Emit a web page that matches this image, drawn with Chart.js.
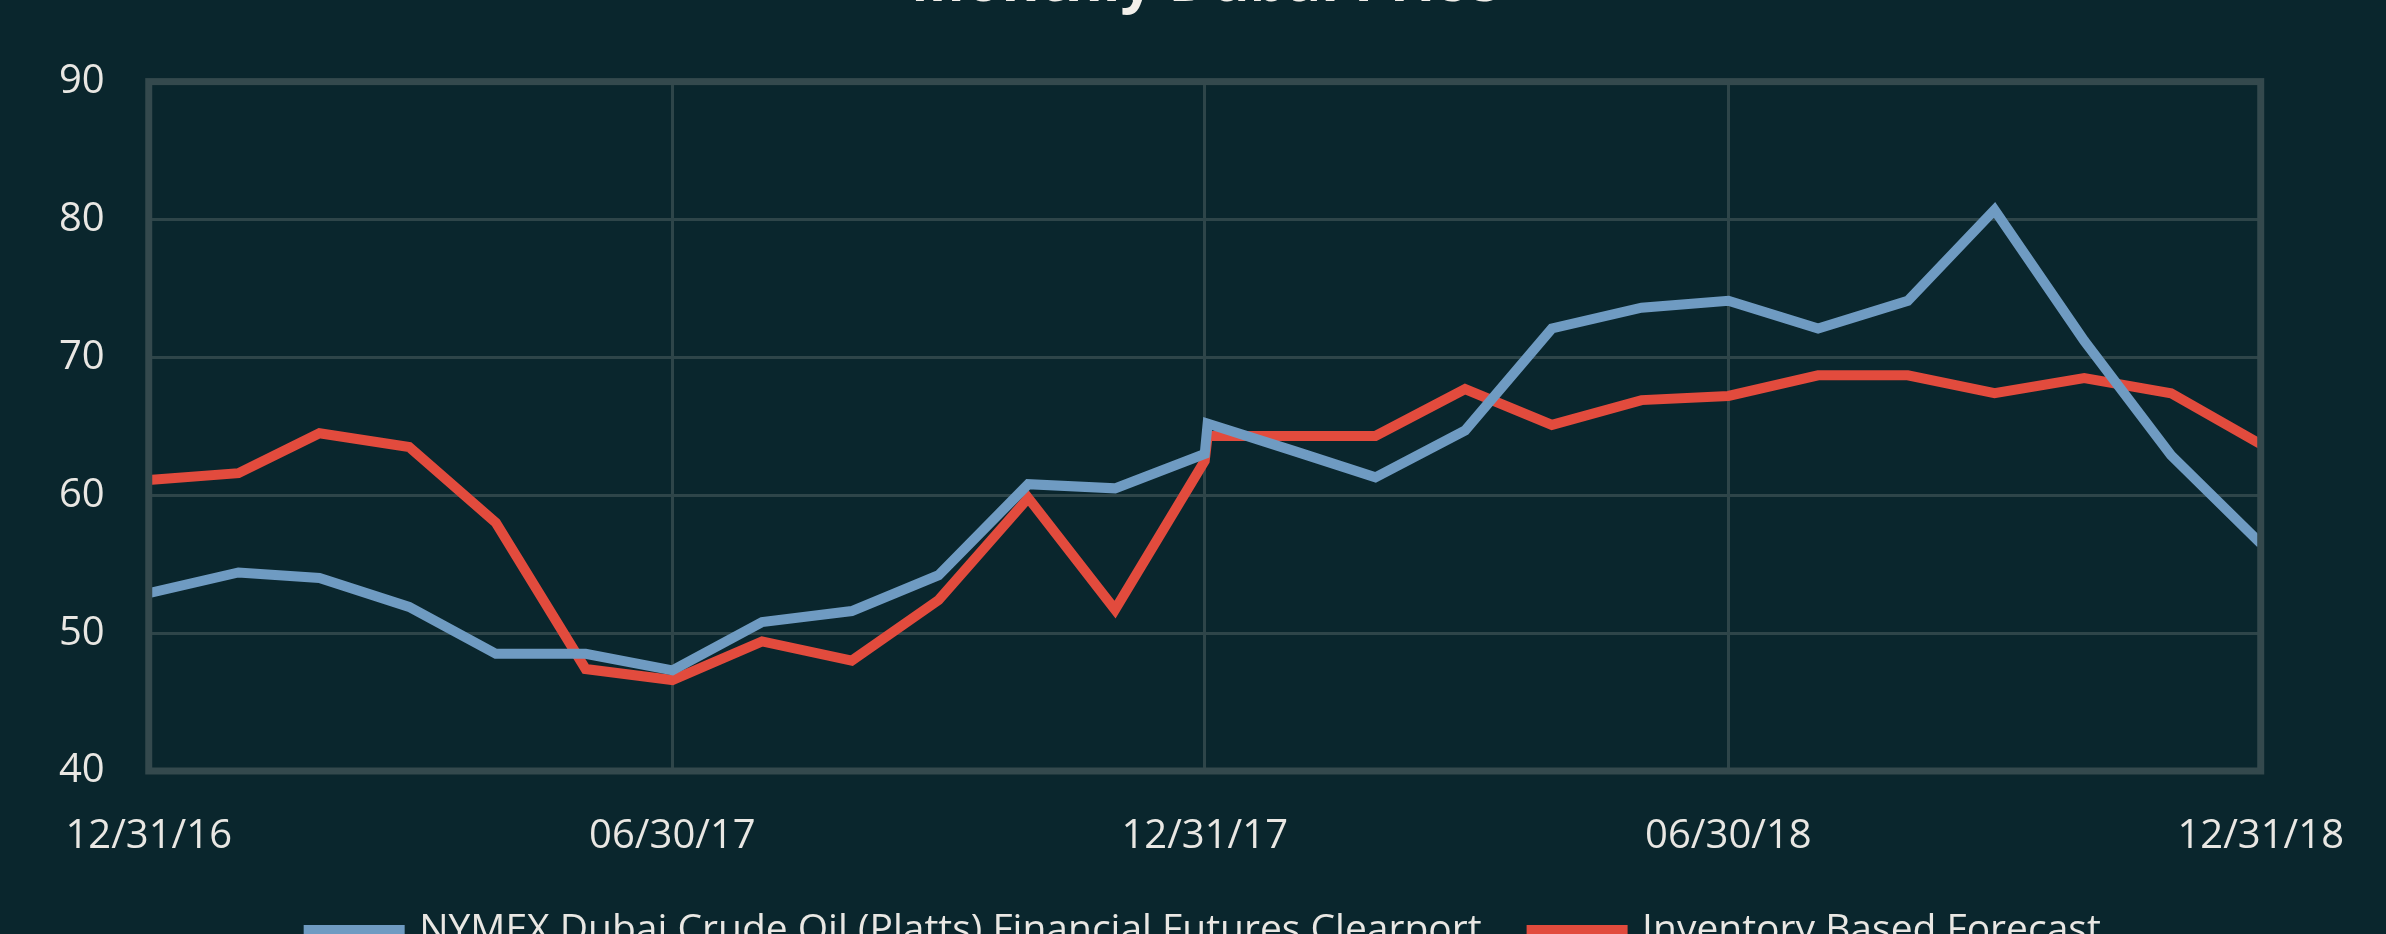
<!DOCTYPE html>
<html>
<head>
<meta charset="utf-8">
<script src="https://cdn.jsdelivr.net/npm/chart.js@4/dist/chart.umd.min.js"></script>
<style>
  html, body { margin: 0; padding: 0; background: #0a262d; overflow: hidden; }
  #wrap { position: absolute; left: 0; top: -60px; width: 2386px; height: 1020px; }
</style>
</head>
<body>
<div id="wrap"><canvas id="chart-price"></canvas></div>
<script>
/* Monthly Dubai price vs inventory based forecast */

const START = "2016-12-31";

const dates = [
  "2016-12-31", "2017-01-31", "2017-02-28", "2017-03-31", "2017-04-30", "2017-05-31",
  "2017-06-30", "2017-07-31", "2017-08-31", "2017-09-30", "2017-10-31", "2017-11-30",
  "2017-12-31", "2018-01-01", "2018-01-31", "2018-02-28", "2018-03-31", "2018-04-30",
  "2018-05-31", "2018-06-30", "2018-07-31", "2018-08-31", "2018-09-30", "2018-10-31",
  "2018-11-30", "2018-12-31",
];
const nymexDubai = [
  52.9, 54.4, 54.0, 51.9, 48.5, 48.5,
  47.3, 50.8, 51.6, 54.2, 60.8, 60.5,
  63.0, 65.2, 63.2, 61.3, 64.7, 72.1,
  73.6, 74.1, 72.1, 74.1, 80.7, 71.2,
  62.9, 56.5,
];
const forecast = [
  61.1, 61.6, 64.5, 63.5, 58.0, 47.4,
  46.6, 49.4, 48.0, 52.4, 59.8, 51.7,
  62.5, 64.3, 64.3, 64.3, 67.7, 65.1,
  66.9, 67.2, 68.7, 68.7, 67.4, 68.5,
  67.4, 63.7,
];
const tickDates = ["2016-12-31", "2017-06-30", "2017-12-31", "2018-06-30", "2018-12-31"];
const tickLabels = ["12/31/16", "06/30/17", "12/31/17", "06/30/18", "12/31/18"];
const seriesNames = ["NYMEX Dubai Crude Oil (Platts) Financial Futures Clearport", "Inventory Based Forecast"];

const TEXT = "#e9e7e3";
const GRID = "#2e4549";
const FRAME = "#34494d";
const BLUE = "#6f9bc2";
const RED = "#e24b3d";
const FONT = "'Open Sans', 'Noto Sans', sans-serif";
const X_PAD = 42;

function dayOf(s) { return Math.round((Date.parse(s) - Date.parse(START)) / 864e5); }
function points(vals) { return vals.map((v, i) => ({ x: dayOf(dates[i]), y: v })); }

const tickDays = tickDates.map(dayOf);

// thick frame round the plot area, drawn over the line ends
const frame = {
  id: "frame",
  afterDatasetsDraw(chart) {
    const { ctx, chartArea: a } = chart;
    ctx.save();
    ctx.strokeStyle = FRAME;
    ctx.lineWidth = 7;
    ctx.strokeRect(a.left, a.top, a.right - a.left, a.bottom - a.top);
    ctx.restore();
  },
};

function line(label, vals, color) {
  return {
    label, data: points(vals),
    borderColor: color, backgroundColor: color,
    borderWidth: 10, pointRadius: 0, tension: 0, borderJoinStyle: "miter",
  };
}

new Chart(document.getElementById("chart-price"), {
  type: "line",
  data: {
    datasets: [
      line(seriesNames[0], nymexDubai, BLUE),
      line(seriesNames[1], forecast, RED),
    ],
  },
  options: {
    responsive: true, maintainAspectRatio: false, animation: false,
    layout: { padding: { left: 15, right: 124, top: 0, bottom: 0 } },
    plugins: {
      title: {
        display: true, fullSize: false, text: "Monthly Dubai Price", color: "#f2efea",
        font: { family: FONT, size: 58, weight: "bold" },
        padding: { top: 10, bottom: 62 },
      },
      legend: {
        position: "bottom", fullSize: false,
        labels: { color: TEXT, font: { family: FONT, size: 39 }, boxWidth: 91, boxHeight: 1, padding: 50 },
      },
      tooltip: { enabled: false },
    },
    scales: {
      x: {
        type: "linear", min: 0, max: tickDays[tickDays.length - 1],
        afterBuildTicks: (s) => { s.ticks = tickDays.map((v) => ({ value: v })); },
        afterFit: (s) => { s.height -= X_PAD; },
        ticks: {
          color: TEXT, font: { family: FONT, size: 40 }, padding: X_PAD, maxRotation: 0, autoSkip: false,
          callback: (v) => tickLabels[tickDays.indexOf(v)],
        },
        grid: { color: GRID, lineWidth: 3, drawTicks: false },
        border: { display: false },
      },
      y: {
        min: 40, max: 90,
        ticks: { stepSize: 10, color: TEXT, font: { family: FONT, size: 40 }, padding: 44 },
        grid: { color: GRID, lineWidth: 3, drawTicks: false },
        border: { display: false },
      },
    },
  },
  plugins: [frame],
});
</script>
</body>
</html>
